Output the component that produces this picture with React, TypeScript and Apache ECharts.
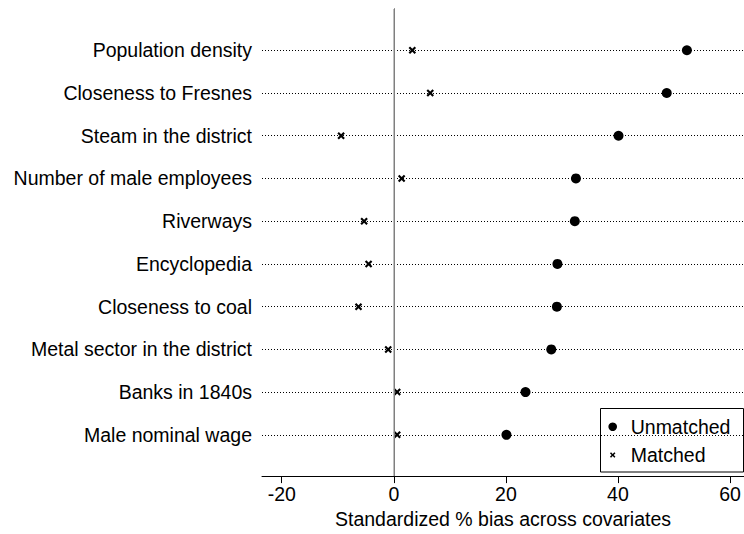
import React, { useEffect, useRef } from "react";
import * as echarts from "echarts";

const categories = [
  "Population density",
  "Closeness to Fresnes",
  "Steam in the district",
  "Number of male employees",
  "Riverways",
  "Encyclopedia",
  "Closeness to coal",
  "Metal sector in the district",
  "Banks in 1840s",
  "Male nominal wage",
];
const unmatched = [52.3, 48.7, 40.1, 32.5, 32.3, 29.2, 29.1, 28.1, 23.5, 20.1];
const matched = [3.3, 6.5, -9.4, 1.4, -5.3, -4.5, -6.3, -1.0, 0.6, 0.6];
const xTicks = [-20, 0, 20, 40, 60];
const seriesNames = ["Unmatched", "Matched"];
const xTitle = "Standardized % bias across covariates";

const FONT = "Liberation Sans, Arial, Helvetica, sans-serif";
const FS = 19.5;
const X_PTS = [
  [0, 2], [2, 0], [5, 3], [8, 0], [10, 2], [7, 5],
  [10, 8], [8, 10], [5, 7], [2, 10], [0, 8], [3, 5],
];
const X_PATH = "path://M" + X_PTS.map((p) => p.join(",")).join("L") + "Z";

function xPolygon(cx: number, cy: number, size: number) {
  return X_PTS.map(([a, b]) => [cx + (a - 5) * size / 10, cy + (b - 5) * size / 10]);
}

export default function App() {
  const ref = useRef<HTMLDivElement>(null);
  useEffect(() => {
    if (!ref.current) return;
    const chart = echarts.init(ref.current, undefined, { renderer: "svg" });
    const n = categories.length;
    const rowVals = categories.map((_, i) => n - i);
    chart.setOption({
      animation: false,
      backgroundColor: "#fff",
      textStyle: { fontFamily: FONT },
      grid: { left: 262, right: 0, top: 9, bottom: 55, containLabel: false },
      legend: { show: false },
      xAxis: {
        type: "value",
        min: -23.52,
        max: 62.49,
        name: xTitle,
        nameLocation: "middle",
        nameGap: 28,
        nameTextStyle: { fontFamily: FONT, fontSize: FS, color: "#000" },
        axisLine: { show: true, lineStyle: { color: "#000", width: 1 } },
        axisTick: { show: true, length: 7, customValues: xTicks, lineStyle: { color: "#000", width: 1 } },
        axisLabel: { show: true, customValues: xTicks, margin: 8, fontFamily: FONT, fontSize: FS, color: "#000" },
        splitLine: { show: false },
      },
      yAxis: {
        type: "value",
        min: 0.0349,
        max: 10.9651,
        axisLine: { show: true, lineStyle: { color: "#000", width: 1 } },
        axisTick: { show: false },
        axisLabel: {
          show: true,
          customValues: rowVals,
          margin: 10,
          fontFamily: FONT,
          fontSize: FS,
          color: "#000",
          formatter: (v: number) => categories[n - Math.round(v)] ?? "",
        },
        splitLine: { show: false },
      },
      series: [
        {
          type: "scatter",
          name: "guides",
          data: [],
          z: 1,
          silent: true,
          markLine: {
            silent: true,
            symbol: ["none", "none"],
            label: { show: false },
            data: [
              ...rowVals.map((v) => ({ yAxis: v, lineStyle: { color: "#000", width: 1, type: [1, 2], opacity: 1 } })),
              { xAxis: 0, lineStyle: { color: "#aaaaaa", width: 1.5, type: "solid", opacity: 1 } },
            ],
          },
        },
        {
          type: "scatter",
          name: seriesNames[0],
          z: 3,
          symbol: "circle",
          symbolSize: 10,
          itemStyle: { color: "#000", opacity: 1 },
          data: unmatched.map((v, i) => [v, rowVals[i]]),
        },
        {
          type: "scatter",
          name: seriesNames[1],
          z: 3,
          symbol: X_PATH,
          symbolSize: 7.5,
          itemStyle: { color: "#000", opacity: 1 },
          data: matched.map((v, i) => [v, rowVals[i]]),
        },
      ],
      graphic: [
        {
          type: "group",
          z: 100,
          children: [
            {
              type: "rect",
              shape: { x: 600.5, y: 408.5, width: 143, height: 63.5 },
              style: { fill: "#fff", stroke: "#000", lineWidth: 1 },
            },
            { type: "circle", shape: { cx: 612.7, cy: 426.7, r: 4.3 }, style: { fill: "#000" } },
            { type: "polygon", shape: { points: xPolygon(612.7, 455, 5.5) }, style: { fill: "#000" } },
            {
              type: "text",
              x: 630.7,
              y: 427,
              style: { text: seriesNames[0], font: `${FS}px ${FONT}`, fill: "#000", verticalAlign: "middle", align: "left" },
            },
            {
              type: "text",
              x: 630.7,
              y: 455,
              style: { text: seriesNames[1], font: `${FS}px ${FONT}`, fill: "#000", verticalAlign: "middle", align: "left" },
            },
          ],
        },
      ],
    });
    return () => chart.dispose();
  }, []);
  return <div ref={ref} style={{ position: "fixed", left: 0, top: 0, width: 744, height: 534 }} />;
}
